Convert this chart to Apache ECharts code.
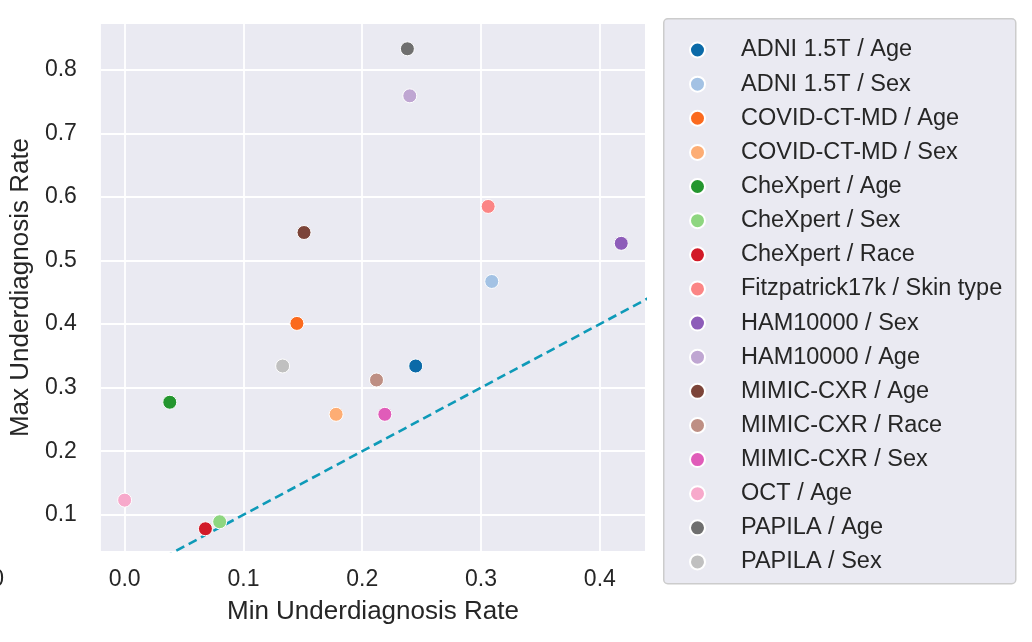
<!DOCTYPE html>
<html>
<head>
<meta charset="utf-8">
<script src="https://cdn.jsdelivr.net/npm/echarts@6/dist/echarts.min.js"></script>
<style>
html,body{margin:0;padding:0;background:#fff;}
#chart{width:1032px;height:642px;}
</style>
</head>
<body>
<div id="chart"></div>
<script>
const names = ["ADNI 1.5T / Age","ADNI 1.5T / Sex","COVID-CT-MD / Age","COVID-CT-MD / Sex","CheXpert / Age","CheXpert / Sex","CheXpert / Race","Fitzpatrick17k / Skin type","HAM10000 / Sex","HAM10000 / Age","MIMIC-CXR / Age","MIMIC-CXR / Race","MIMIC-CXR / Sex","OCT / Age","PAPILA / Age","PAPILA / Sex"];
const minRate = [0.245,0.309,0.145,0.178,0.038,0.080,0.068,0.306,0.418,0.240,0.151,0.212,0.219,0.000,0.238,0.133];
const maxRate = [0.334,0.467,0.401,0.258,0.277,0.089,0.078,0.585,0.527,0.759,0.544,0.312,0.258,0.123,0.833,0.334];
const colors = ["#0b6aa8","#a3c2e4","#fb6a1e","#fdad74","#24962f","#8ed680","#d21a28","#fb8585","#8d5cb9","#bfa6d2","#7c4439","#be8f84","#e05cb9","#f7a9cb","#6f6f6f","#c0c0c0"];
const diagLine = [[-0.05,-0.05],[0.5,0.5]];

const FONT = '"Liberation Sans", Arial, Helvetica, sans-serif';
const chart = echarts.init(document.getElementById('chart'));

const series = names.map((n,i)=>({
  name:n, type:'scatter', symbol:'circle', symbolSize:14,
  itemStyle:{color:colors[i], borderColor:'#fff', borderWidth:1, opacity:1},
  data:[[minRate[i],maxRate[i]]], z:3
}));
series.push({
  name:'diag', type:'line', data:diagLine, showSymbol:false, symbol:'none', clip:true,
  lineStyle:{color:'#0e9ab8', width:2.6, type:[9,5]}, z:2, silent:true
});

chart.setOption({
  animation:false,
  backgroundColor:'#fff',
  grid:{left:98, right:387, top:24, bottom:91, show:true, backgroundColor:'#eaeaf2', borderWidth:0},
  xAxis:{
    type:'value', min:-0.02, max:0.438, splitNumber:5, minInterval:0.1, maxInterval:0.1,
    name:'Min Underdiagnosis Rate', nameLocation:'middle', nameGap:48,
    nameTextStyle:{fontFamily:FONT, fontSize:26, color:'#262626'},
    axisLine:{show:false}, axisTick:{show:false},
    axisLabel:{fontFamily:FONT, fontSize:23, color:'#262626', margin:17, showMinLabel:false, showMaxLabel:false,
      formatter:v=>v.toFixed(1)},
    splitLine:{show:true, showMinLine:false, showMaxLine:false, lineStyle:{color:'#fff', width:1.8}}
  },
  yAxis:{
    type:'value', min:0.043, max:0.872, splitNumber:8, minInterval:0.1, maxInterval:0.1,
    name:'Max Underdiagnosis Rate', nameLocation:'middle', nameGap:63,
    nameTextStyle:{fontFamily:FONT, fontSize:26, color:'#262626'},
    axisLine:{show:false}, axisTick:{show:false},
    axisLabel:{fontFamily:FONT, fontSize:23, color:'#262626', margin:24, showMinLabel:false, showMaxLabel:false,
      formatter:v=>v.toFixed(1)},
    splitLine:{show:true, showMinLine:false, showMaxLine:false, lineStyle:{color:'#fff', width:1.8}}
  },
  legend:{
    data:names, orient:'vertical', left:689, top:38, padding:0,
    icon:'circle', itemWidth:15, itemHeight:15, itemGap:10.13,
    textStyle:{fontFamily:FONT, fontSize:23.5, color:'#262626', lineHeight:24, padding:[0,0,0,31]},
    selectedMode:false
  },
  graphic:[
    {type:'rect', left:663, top:18, z:-1, silent:true,
     shape:{width:352, height:565, r:4},
     style:{fill:'#eaeaf2', stroke:'#cccccc', lineWidth:1.5}},
    {type:'text', x:4, y:580, silent:true,
     style:{text:'0.0', font:'23px '+FONT, fill:'#262626', textAlign:'right', textVerticalAlign:'middle'}}
  ],
  series:series
});
</script>
</body>
</html>
